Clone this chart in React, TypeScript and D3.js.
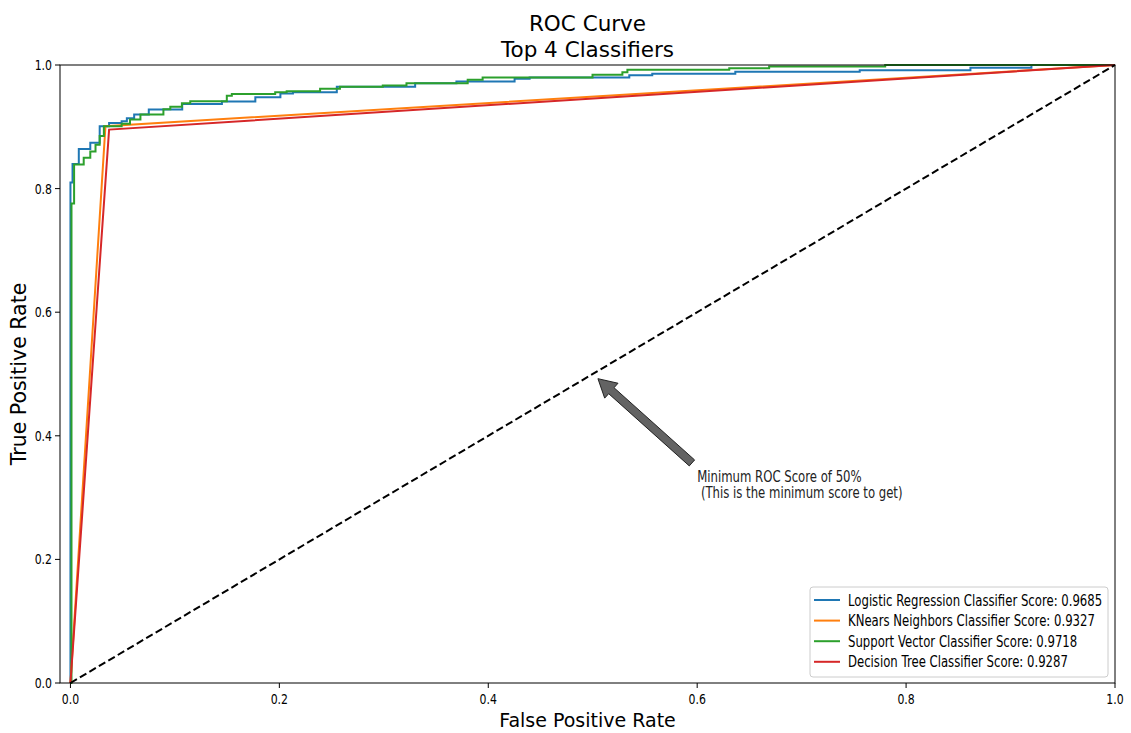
import * as d3 from "d3";

// ROC points (fpr, tpr)
const LOG_FPR = [0, 0, 0.002, 0.008, 0.019, 0.028, 0.037, 0.049, 0.054, 0.061, 0.075, 0.107, 0.145, 0.177, 0.201, 0.213, 0.255, 0.33, 0.3695, 0.4252, 0.4396, 0.535, 0.557, 0.6365, 0.7556, 0.8616, 0.92, 1];
const LOG_TPR = [0, 0.81, 0.84, 0.864, 0.874, 0.901, 0.906, 0.909, 0.914, 0.92, 0.928, 0.937, 0.941, 0.948, 0.954, 0.956, 0.965, 0.9705, 0.9733, 0.9777, 0.9798, 0.9835, 0.9857, 0.989, 0.9916, 0.9955, 1, 1];

const KNN_FPR = [0, 0.0335, 1];
const KNN_TPR = [0, 0.9009, 1];

const SVC_FPR = [0, 0.001, 0.0035, 0.0127, 0.019, 0.024, 0.028, 0.032, 0.049, 0.057, 0.067, 0.089, 0.0956, 0.1067, 0.1147, 0.1497, 0.1545, 0.196, 0.207, 0.239, 0.258, 0.299, 0.3217, 0.3803, 0.3946, 0.4998, 0.5284, 0.5332, 0.6307, 0.6689, 0.78, 1];
const SVC_TPR = [0, 0.776, 0.839, 0.85, 0.86, 0.871, 0.885, 0.901, 0.905, 0.912, 0.92, 0.9286, 0.9325, 0.938, 0.9414, 0.9502, 0.953, 0.9558, 0.9576, 0.9615, 0.9647, 0.9668, 0.9705, 0.976, 0.9798, 0.9841, 0.9883, 0.9922, 0.9948, 0.9976, 1, 1];

const TREE_FPR = [0, 0.037, 1];
const TREE_TPR = [0, 0.8955, 1];

const LABELS = [
  "Logistic Regression Classifier Score: 0.9685",
  "KNears Neighbors Classifier Score: 0.9327",
  "Support Vector Classifier Score: 0.9718",
  "Decision Tree Classifier Score: 0.9287",
];
const COLORS = ["#1f77b4", "#ff7f0e", "#2ca02c", "#d62728"];

const TICKS = [0, 0.2, 0.4, 0.6, 0.8, 1.0];
const TITLE = ["ROC Curve", "Top 4 Classifiers"];
const ANNOT_XY = [0.5, 0.5];
const ANNOT_TEXT_XY = [0.6, 0.3];
const ANNOT_LINES = ["Minimum ROC Score of 50%", " (This is the minimum score to get)"];

const FONT = "DejaVu Sans";
const SQ = 0.78; // small text looks horizontally squeezed in the reference

export default function App() {
  const x = d3.scaleLinear().domain([-0.01, 1]).range([60, 1115]);
  const y = d3.scaleLinear().domain([0, 1]).range([683, 65]);

  const series = [
    { fpr: LOG_FPR, tpr: LOG_TPR, step: true },
    { fpr: KNN_FPR, tpr: KNN_TPR, step: false },
    { fpr: SVC_FPR, tpr: SVC_TPR, step: true },
    { fpr: TREE_FPR, tpr: TREE_TPR, step: false },
  ];

  const mkLine = (step: boolean) =>
    d3
      .line<[number, number]>()
      .x((d) => x(d[0]))
      .y((d) => y(d[1]))
      .curve(step ? d3.curveStepAfter : d3.curveLinear);

  // annotation arrow: from xy toward text top-left, shrunk 5% each end
  const tx = x(ANNOT_TEXT_XY[0]);
  const lastBase = y(ANNOT_TEXT_XY[1]);
  const firstBase = lastBase - 16 * (ANNOT_LINES.length - 1);
  const textTop = firstBase - 14;
  const ax = x(ANNOT_XY[0]);
  const ay = y(ANNOT_XY[1]);
  const dx = tx - ax;
  const dy = textTop - ay;
  const tip = [ax + dx * 0.05, ay + dy * 0.05];
  const tail = [ax + dx * 0.95, ay + dy * 0.95];
  const len = Math.hypot(tail[0] - tip[0], tail[1] - tip[1]);
  const ux = (tip[0] - tail[0]) / len;
  const uy = (tip[1] - tail[1]) / len;
  const nx = -uy;
  const ny = ux;
  const hw = 4, hh = 10, hl = 18;
  const bx = tip[0] - ux * hl;
  const by = tip[1] - uy * hl;
  const arrowPts = [
    [tail[0] + nx * hw, tail[1] + ny * hw],
    [bx + nx * hw, by + ny * hw],
    [bx + nx * hh, by + ny * hh],
    [tip[0], tip[1]],
    [bx - nx * hh, by - ny * hh],
    [bx - nx * hw, by - ny * hw],
    [tail[0] - nx * hw, tail[1] - ny * hw],
  ];

  const [x0, x1] = x.range();
  const [y0, y1] = y.range();
  const cx = (x0 + x1) / 2;

  const legX = 810, legY = 587, rowH = 20.6;

  return (
    <svg
      width={1131}
      height={733}
      style={{ position: "absolute", left: 0, top: 0, background: "#fff" }}
      fontFamily={FONT}
    >
      <rect width={1131} height={733} fill="#fff" />

      {/* title */}
      {TITLE.map((t, i) => (
        <text key={t} x={cx} y={31 + i * 26} textAnchor="middle" fontSize={21.5} fill="#000">
          {t}
        </text>
      ))}

      {/* curves */}
      {series.map((s, i) => (
        <path
          key={i}
          d={mkLine(s.step)(s.fpr.map((f, j) => [f, s.tpr[j]] as [number, number])) || ""}
          fill="none"
          stroke={COLORS[i]}
          strokeWidth={2}
        />
      ))}

      {/* chance line */}
      <line x1={x(0)} y1={y(0)} x2={x(1)} y2={y(1)} stroke="#000" strokeWidth={2} strokeDasharray="7.5,3.5" />

      {/* spines */}
      <rect x={x0} y={y1} width={x1 - x0} height={y0 - y1} fill="none" stroke="#000" strokeWidth={1} />

      {/* x ticks */}
      {TICKS.map((t) => (
        <g key={"x" + t}>
          <line x1={x(t)} x2={x(t)} y1={y0} y2={y0 + 5} stroke="#000" />
          <text transform={`translate(${x(t)},${y0 + 21}) scale(${SQ},1)`} textAnchor="middle" fontSize={14} fill="#000">
            {d3.format(".1f")(t)}
          </text>
        </g>
      ))}
      {/* y ticks */}
      {TICKS.map((t) => (
        <g key={"y" + t}>
          <line x1={x0 - 5} x2={x0} y1={y(t)} y2={y(t)} stroke="#000" />
          <text transform={`translate(${x0 - 8},${y(t) + 5}) scale(${SQ},1)`} textAnchor="end" fontSize={14} fill="#000">
            {d3.format(".1f")(t)}
          </text>
        </g>
      ))}

      {/* axis labels */}
      <text x={cx} y={727} textAnchor="middle" fontSize={19} fill="#000">
        False Positive Rate
      </text>
      <text transform={`translate(26,${(y0 + y1) / 2}) rotate(-90)`} textAnchor="middle" fontSize={20.5} fill="#000">
        True Positive Rate
      </text>

      {/* annotation */}
      <polygon points={arrowPts.map((p) => p.join(",")).join(" ")} fill="#636363" stroke="#222" strokeWidth={1} />
      {ANNOT_LINES.map((l, i) => (
        <text
          key={i}
          transform={`translate(${tx},${firstBase + i * 16}) scale(${SQ},1)`}
          fontSize={15}
          fill="#222"
          style={{ whiteSpace: "pre" }}
        >
          {l}
        </text>
      ))}

      {/* legend */}
      <rect x={legX} y={legY} width={298} height={90} rx={3} fill="#fff" fillOpacity={0.8} stroke="#ccc" />
      {LABELS.map((l, i) => {
        const ry = legY + 13 + i * rowH;
        return (
          <g key={l}>
            <line x1={legX + 4} x2={legX + 30} y1={ry} y2={ry} stroke={COLORS[i]} strokeWidth={2} />
            <text transform={`translate(${legX + 38},${ry + 5.5}) scale(${SQ},1)`} fontSize={15} fill="#000">
              {l}
            </text>
          </g>
        );
      })}
    </svg>
  );
}
